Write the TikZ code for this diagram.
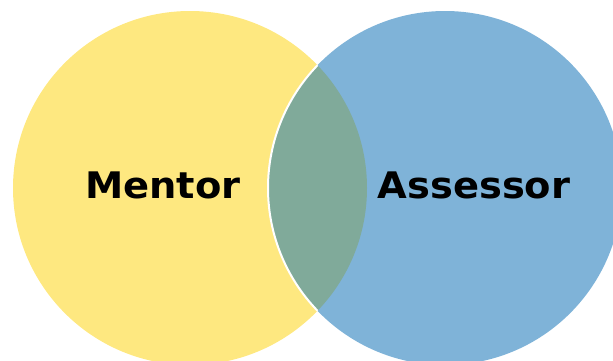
\documentclass[tikz,border=0pt]{standalone}
\usepackage{fontspec}
\newfontfamily\labelfont[FakeStretch=1.05]{DejaVu Sans}
\definecolor{mentorfill}{HTML}{FEE880}
\definecolor{assessorfill}{HTML}{7FB3D8}
\definecolor{overlapfill}{HTML}{80AA9A}
\begin{document}
\begin{tikzpicture}[x=1pt,y=-1pt,
  setlabel/.style={inner sep=0pt, anchor=base, font=\labelfont\bfseries\fontsize{36.6}{40}\selectfont}]
\useasboundingbox (0,0) rectangle (613,360);
\clip (0,0) rectangle (613,360);
% the two sets
\fill[mentorfill] (190,188) circle[radius=177];
\fill[assessorfill] (445,188) circle[radius=177];
% their overlap
\begin{scope}
  \clip (190,188) circle[radius=177];
  \fill[overlapfill] (445,188) circle[radius=177];
  \draw[white, line width=2] (445,188) circle[radius=177];
\end{scope}
% labels
\node[setlabel] (mentor) at (163,198.3) {Mentor};
\node[setlabel] (assessor) at (474,198.3) {Assessor};
\end{tikzpicture}
\end{document}
